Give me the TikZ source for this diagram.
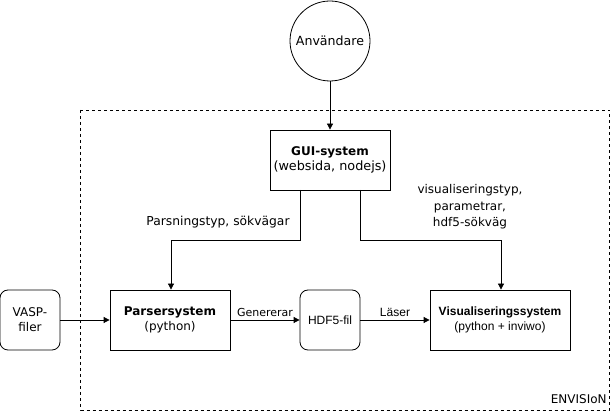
\documentclass[tikz,border=0pt]{standalone}
\usepackage{fontspec}
\setmainfont{DejaVu Sans}
\newfontfamily\arialfont{Liberation Sans}
\usetikzlibrary{arrows.meta}
\begin{document}
\begin{tikzpicture}[x=1pt,y=-1pt,
  box/.style={draw,thick,minimum width=120pt,minimum height=60pt,align=center,inner sep=0pt,font=\fontsize{12}{15}\selectfont},
  rbox/.style={draw,thick,rounded corners=8pt,minimum width=60pt,minimum height=60pt,align=center,inner sep=0pt,font=\fontsize{12}{15}\selectfont},
  lbl/.style={font=\fontsize{11}{13}\selectfont,align=center,inner sep=0pt},
  conn/.style={thick,-{Triangle[length=6pt,width=6pt]}},
  line width=0.8pt]
\useasboundingbox (0,0) rectangle (611,411);
\draw[dashed,line width=0.8pt] (80.5,110) rectangle (609.5,410);
\node[draw,thick,circle,minimum size=80pt,inner sep=0pt,font=\fontsize{12.6}{14}\selectfont] (user) at (330,41) {Användare};
\node[box] (gui) at (330,160) {\textbf{GUI-system}\\{\fontsize{12.8}{15}\selectfont(websida, nodejs)}};
\node[box] (parser) at (170,320) {\textbf{Parsersystem}\\(python)};
\node[rbox] (vasp) at (30,320) {VASP-\\filer};
\node[rbox,font=\arialfont\fontsize{12}{15}\selectfont] (hdf) at (330,320) {HDF5-fil};
\node[box,minimum width=140pt,font=\arialfont\fontsize{12}{15}\selectfont] (vis) at (500,320) {\textbf{Visualiseringssystem}\\{\fontsize{12}{15}\selectfont(python + inviwo)}};
\node[lbl,anchor=south east,font=\fontsize{12}{13}\selectfont] (envision) at (607,404) {ENVISIoN};
\coordinate (gl) at (300,190);
\coordinate (gr) at (360,190);
\coordinate (pl) at (171,240);
\coordinate (pr) at (501,240);
\draw[conn] (user) -- (gui);
\draw[conn] (vasp) -- (parser);
\draw[conn] (parser) -- node[lbl,above=3pt] (gen) {Genererar} (hdf);
\draw[conn] (hdf) -- node[lbl,above=3pt,font=\arialfont\fontsize{12}{13}\selectfont] (las) {Läser} (vis);
\draw[conn] (gl) |- (pl) -- (pl |- parser.north);
\draw[conn] (gr) |- (pr) -- (pr |- vis.north);
\node[lbl,font=\fontsize{12.3}{13}\selectfont] (plbl) at (218,222) {Parsningstyp, sökvägar};
\node[lbl,font=\fontsize{12}{16.5}\selectfont] (vlbl) at (470,207) {visualiseringstyp,\\parametrar,\\hdf5-sökväg};
\end{tikzpicture}
\end{document}
